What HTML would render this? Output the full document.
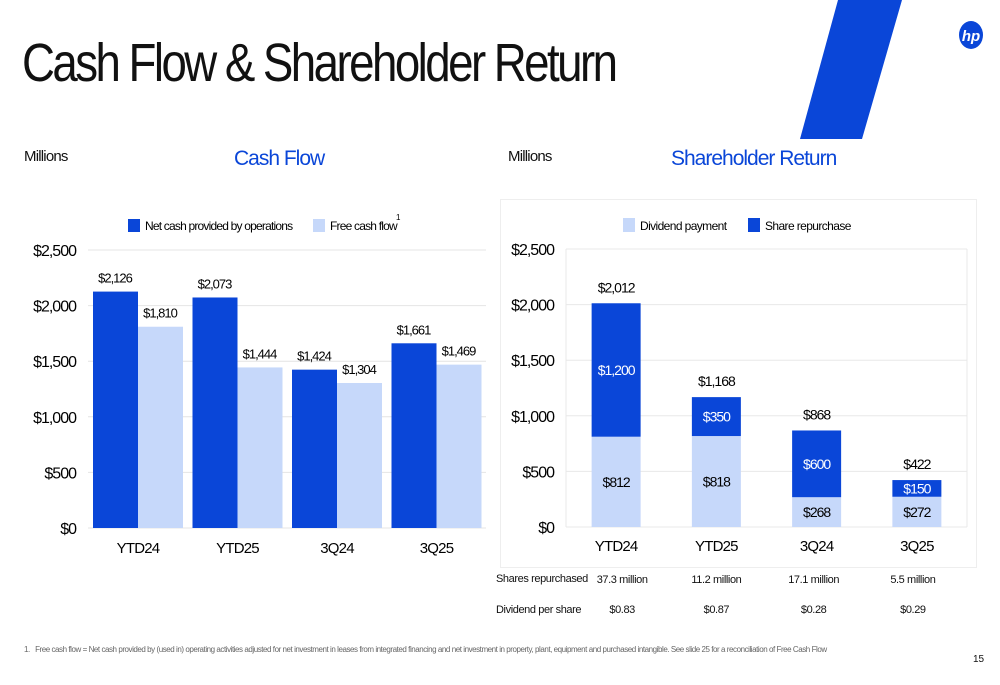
<!DOCTYPE html>
<html><head><meta charset="utf-8"><style>
html,body{margin:0;padding:0;background:#fff}
body{width:1000px;height:685px;position:relative;overflow:hidden;font-family:"Liberation Sans",sans-serif;color:#111}
.abs{position:absolute;white-space:nowrap}
</style></head><body>
<svg class="abs" style="left:0;top:0" width="1000" height="685">
<polygon points="838,0 902,0 862,139 800,139" fill="#0a46d8"/>
<ellipse cx="971" cy="35" rx="12" ry="14" fill="#0a46d8"/>
<text x="971" y="41" font-family="Liberation Sans" font-style="italic" font-weight="bold" font-size="15" fill="#fff" text-anchor="middle">hp</text>
<rect x="500.5" y="199.5" width="476" height="368" fill="none" stroke="#eeeeee"/>
</svg>
<div class="abs" style="left:22px;top:32px;font-size:54px;letter-spacing:-3px;transform:scaleX(0.845);transform-origin:0 0">Cash Flow &amp; Shareholder Return</div>
<div class="abs" style="left:24px;top:148px;font-size:15px;letter-spacing:-0.8px">Millions</div>
<div class="abs" style="left:234px;top:147px;font-size:21px;color:#0a46d8;letter-spacing:-1px">Cash Flow</div>
<div class="abs" style="left:508px;top:148px;font-size:15px;letter-spacing:-0.8px">Millions</div>
<div class="abs" style="left:671px;top:147px;font-size:21px;color:#0a46d8;letter-spacing:-1px">Shareholder Return</div>

<svg id="c1" class="abs" style="left:0;top:200px" width="500" height="370"></svg>
<svg id="c2" class="abs" style="left:500px;top:200px" width="490" height="370"></svg>

<div class="abs" style="left:496px;top:573px;font-size:11px;letter-spacing:-0.4px">Shares repurchased</div>
<div class="abs" style="left:496px;top:604px;font-size:11px;letter-spacing:-0.4px">Dividend per share</div>
<div class="abs" style="left:24px;top:645px;font-size:8px;color:#666;letter-spacing:-0.45px">1.&nbsp;&nbsp; Free cash flow = Net cash provided by (used in) operating activities adjusted for net investment in leases from integrated financing and net investment in property, plant, equipment and purchased intangible. See slide 25 for a reconciliation of Free Cash Flow</div>
<div class="abs" style="left:973px;top:654px;font-size:10px">15</div>
<script>
const NS="http://www.w3.org/2000/svg";
const DARK="#0a46d8", LIGHT="#c6d8fa";
const categories=["YTD24","YTD25","3Q24","3Q25"];
const netCash=[2126,2073,1424,1661];
const freeCash=[1810,1444,1304,1469];
const dividends=[812,818,268,272];
const repurchases=[1200,350,600,150];
const yTicks=[0,500,1000,1500,2000,2500];
const sharesRep=["37.3  million","11.2  million","17.1 million","5.5  million"];
const dps=["$0.83","$0.87","$0.28","$0.29"];
const tableShift=[6,0,-3,-4];
function el(p,t,a,txt){const e=document.createElementNS(NS,t);for(const k in a)e.setAttribute(k,a[k]);if(txt!=null)e.textContent=txt;p.appendChild(e);return e;}
function fmt(v){return "$"+v.toLocaleString("en-US");}
(function(){
const s=document.getElementById("c1");
const y0=328,yTop=50,x0=88,x1=486;
const y=v=>y0-(v/2500)*(y0-yTop);
const gw=(x1-x0)/4;
yTicks.forEach(t=>{
 const g=el(s,"line",{x1:x0,x2:x1,y1:y(t),y2:y(t),stroke:"#e4e4e4"});
 
 
 const l=el(s,"text",{x:76,y:y(t)+6,"text-anchor":"end","font-size":16,"letter-spacing":"-1"},fmt(t));
 
 
});
categories.forEach((c,i)=>{
 const bx=x0+i*gw+5;
 const b1=el(s,"rect",{x:bx,y:y(netCash[i]),width:45,height:y0-y(netCash[i]),fill:DARK});
 
 
 const b2=el(s,"rect",{x:bx+45,y:y(freeCash[i]),width:45,height:y0-y(freeCash[i]),fill:LIGHT});
 
 
 const t1=el(s,"text",{x:bx+22,y:y(netCash[i])-9,"text-anchor":"middle","font-size":13,"letter-spacing":"-1"},fmt(netCash[i]));
 
 
 const t2=el(s,"text",{x:bx+67,y:y(freeCash[i])-9,"text-anchor":"middle","font-size":13,"letter-spacing":"-1"},fmt(freeCash[i]));
 
 
 const cl=el(s,"text",{x:bx+45,y:353,"text-anchor":"middle","font-size":15,"letter-spacing":"-0.8"},c);
 
 
});
const lg=el(s,"g",{});


el(lg,"rect",{x:128,y:19,width:12,height:13,fill:DARK});
el(lg,"text",{x:145,y:30,"font-size":12,"letter-spacing":"-0.8"},"Net cash provided by operations");
el(lg,"rect",{x:313,y:19,width:12,height:13,fill:LIGHT});
el(lg,"text",{x:330,y:30,"font-size":12,"letter-spacing":"-0.8"},"Free cash flow");
el(lg,"text",{x:396,y:20,"font-size":8},"1");
})();
(function(){
const s=document.getElementById("c2");
const y0=327,yTop=49,x0=66,x1=467;
const y=v=>y0-(v/2500)*(y0-yTop);
const gw=(x1-x0)/4;
yTicks.forEach(t=>{
 const g=el(s,"line",{x1:x0,x2:x1,y1:y(t),y2:y(t),stroke:"#e8e8e8"});
 
 
 const l=el(s,"text",{x:54,y:y(t)+6,"text-anchor":"end","font-size":16,"letter-spacing":"-1"},fmt(t));
 
 
});
el(s,"line",{x1:x0,x2:x0,y1:yTop,y2:y0,stroke:"#e8e8e8"});
el(s,"line",{x1:x1,x2:x1,y1:yTop,y2:y0,stroke:"#e8e8e8"});
categories.forEach((c,i)=>{
 const cx=x0+i*gw+gw/2, bw=49, bx=cx-bw/2;
 const tot=dividends[i]+repurchases[i];
 const b1=el(s,"rect",{x:bx,y:y(dividends[i]),width:bw,height:y0-y(dividends[i]),fill:LIGHT});
 
 
 const b2=el(s,"rect",{x:bx,y:y(tot),width:bw,height:y(dividends[i])-y(tot),fill:DARK});
 
 
 const t1=el(s,"text",{x:cx,y:(y(dividends[i])+y0)/2+5,"text-anchor":"middle","font-size":14,"letter-spacing":"-1"},fmt(dividends[i]));
 
 
 const t2=el(s,"text",{x:cx,y:(y(tot)+y(dividends[i]))/2+5,"text-anchor":"middle","font-size":14,"letter-spacing":"-1",fill:"#fff"},fmt(repurchases[i]));
 
 
 const t3=el(s,"text",{x:cx,y:y(tot)-11,"text-anchor":"middle","font-size":14,"letter-spacing":"-1"},fmt(tot));
 
 
 const cl=el(s,"text",{x:cx,y:351,"text-anchor":"middle","font-size":15,"letter-spacing":"-0.8"},c);
 
 
 const d1=document.createElement("div");
 d1.className="abs";d1.style.cssText="left:"+(500+cx-40+tableShift[i])+"px;width:80px;text-align:center;top:574px;font-size:11px;letter-spacing:-0.4px";
 d1.textContent=sharesRep[i];
 
 
 document.body.appendChild(d1);
 const d2=document.createElement("div");
 d2.className="abs";d2.style.cssText="left:"+(500+cx-40+tableShift[i])+"px;width:80px;text-align:center;top:604px;font-size:11px;letter-spacing:-0.4px";
 d2.textContent=dps[i];
 
 
 document.body.appendChild(d2);
});
const lg=el(s,"g",{});


el(lg,"rect",{x:123,y:18,width:12,height:14,fill:LIGHT});
el(lg,"text",{x:140,y:30,"font-size":12,"letter-spacing":"-0.6"},"Dividend payment");
el(lg,"rect",{x:248,y:18,width:12,height:14,fill:DARK});
el(lg,"text",{x:265,y:30,"font-size":12,"letter-spacing":"-0.6"},"Share repurchase");
})();
</script>
</body></html>
